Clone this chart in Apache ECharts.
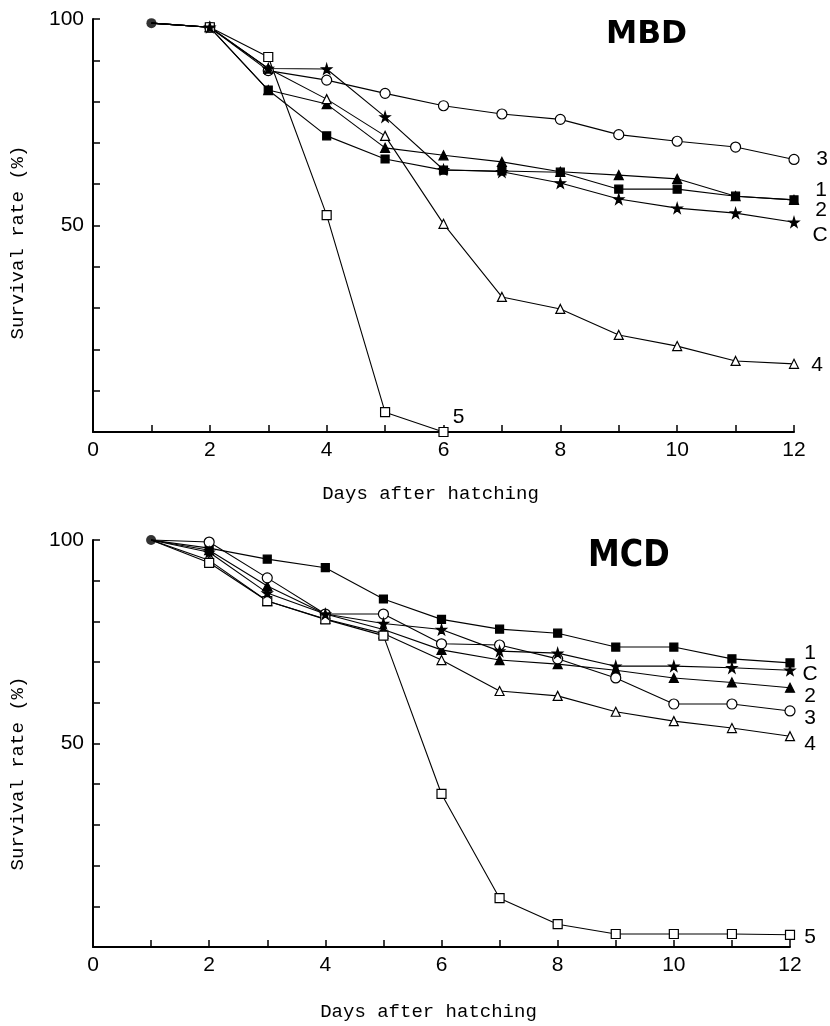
<!DOCTYPE html>
<html><head><meta charset="utf-8">
<script src="https://cdn.jsdelivr.net/npm/echarts@6/dist/echarts.min.js"></script>
<style>html,body{margin:0;padding:0;background:#fff}#c{width:830px;height:1026px}</style>
</head><body><div id="c"></div>
<script>
// ---- data ----
const days = [1,2,3,4,5,6,7,8,9,10,11,12];
const xTicks = [0,2,4,6,8,10,12];
const yTickLabels = [50,100];
// MBD panel
const mbd1 = [99, 98, 82.8, 71.7, 66.1, 63.4, 63.2, 62.9, 58.8, 58.8, 57.1, 56.2];
const mbd2 = [99, 98, 82.8, 79.4, 68.8, 67, 65.4, 63, 62.2, 61.3, 57.1, 56.2];
const mbd3 = [99, 98, 87.5, 85.2, 82, 79, 77, 75.7, 72, 70.4, 69, 66];
const mbd4 = [99, 98, 88, 80.6, 71.7, 50.4, 32.7, 29.8, 23.5, 20.8, 17.2, 16.5];
const mbd5 = [99, 98, 90.8, 52.5, 4.8, 0];
const mbdC = [99, 98, 88, 87.9, 76.3, 63.5, 63, 60.3, 56.4, 54.2, 53, 50.8];
// MCD panel
const mcd1 = [100, 98, 95.3, 93.2, 85.5, 80.5, 78.1, 77.1, 73.7, 73.7, 70.8, 69.8];
const mcd2 = [100, 97.5, 88.7, 81.8, 78, 73, 70.5, 69.5, 68, 66.1, 65, 63.7];
const mcd3 = [100, 99.5, 90.7, 81.8, 81.8, 74.5, 74.2, 70.8, 66.1, 59.7, 59.7, 58];
const mcd4 = [100, 95, 85, 80.6, 77, 70.5, 62.9, 61.7, 57.8, 55.5, 53.8, 51.8];
const mcd5 = [100, 94.4, 85, 80.5, 76.5, 37.6, 12, 5.6, 3.2, 3.2, 3.2, 3];
const mcdC = [100, 97, 87, 81.8, 79.5, 78, 72.7, 72.2, 69, 69, 68.6, 68];
const seriesNames = ['1','2','3','4','5','C'];
const panelTitles = ['MBD','MCD'];
const xName = 'Days after hatching';
const yName = 'Survival rate (%)';

// ---- styles ----
const STAR = 'path://M50,0 L61,35 98,35 68,57 79,91 50,70 21,91 32,57 2,35 39,35Z';
const sym = {
  '1': {symbol:'rect', size:8, fill:'#000'},
  '2': {symbol:'triangle', size:9, fill:'#000'},
  '3': {symbol:'circle', size:10, fill:'#fff'},
  '4': {symbol:'triangle', size:9, fill:'#fff'},
  '5': {symbol:'rect', size:9, fill:'#fff'},
  'C': {symbol:STAR, size:10, fill:'#000'}
};
const labelOffsets = [
  {'1':[27,-10],'2':[27,10],'3':[28,0],'4':[23,1],'5':[15,-15],'C':[26,13]},
  {'1':[20,-10],'2':[20,8],'3':[20,7],'4':[20,8],'5':[20,2],'C':[20,4]}
];
const panels = [
  {'1':mbd1,'2':mbd2,'3':mbd3,'4':mbd4,'5':mbd5,'C':mbdC},
  {'1':mcd1,'2':mcd2,'3':mcd3,'4':mcd4,'5':mcd5,'C':mcdC}
];

const series = [];
panels.forEach((p, pi) => {
  seriesNames.forEach(n => {
    const s = sym[n];
    series.push({
      type:'line', name:panelTitles[pi]+' '+n, xAxisIndex:pi, yAxisIndex:pi,
      data: p[n].map((v,i)=> i===0 ? {value:[days[i], v], symbolSize:0} : [days[i], v]),
      symbol:s.symbol, symbolSize:s.size, showAllSymbol:true,
      lineStyle:{color:'#000', width:1.1},
      itemStyle:{color:s.fill, borderColor:'#000', borderWidth:1.2},
      emphasis:{disabled:true}, animation:false, clip:false,
      endLabel:{show:true, formatter:n, distance:0, align:'center', verticalAlign:'middle',
        offset:labelOffsets[pi][n], color:'#000', fontSize:21,
        fontFamily:'Liberation Sans, Arial, sans-serif'}
    });
  });
  // common start point (filled circle)
  series.push({
    type:'scatter', xAxisIndex:pi, yAxisIndex:pi, symbol:'circle', symbolSize:10,
    data:[[days[0], p['1'][0]]], itemStyle:{color:'#000'}, z:5, animation:false, silent:true
  });
});

const axisFont = 'Liberation Sans, Arial, sans-serif';
const nameFont = 'Liberation Mono, DejaVu Sans Mono, monospace';
function xAx(gi, gap){
  return {type:'value', gridIndex:gi, min:0, max:12, interval:1,
    name:xName, nameLocation:'middle', nameGap:gap,
    nameTextStyle:{fontFamily:nameFont, fontSize:19, color:'#000', padding:[0,26,0,0]},
    axisLine:{lineStyle:{color:'#000', width:2}},
    axisTick:{inside:true, length:7, lineStyle:{color:'#000', width:1.5}},
    axisLabel:{color:'#000', fontSize:21, fontFamily:axisFont, margin:8,
      formatter:v => xTicks.includes(v) ? String(v) : ''},
    splitLine:{show:false}};
}
function yAx(gi, shift){
  return {type:'value', gridIndex:gi, min:0, max:100, interval:10,
    name:yName, nameLocation:'middle', nameGap:66, nameRotate:90,
    nameTextStyle:{fontFamily:nameFont, fontSize:19, color:'#000', padding:[0,shift,0,0]},
    axisLine:{show:true, lineStyle:{color:'#000', width:2}},
    axisTick:{inside:true, length:7, lineStyle:{color:'#000', width:1.5}},
    axisLabel:{color:'#000', fontSize:21, fontFamily:axisFont, margin:9,
      formatter:v => yTickLabels.includes(v) ? String(v) : ''},
    splitLine:{show:false}};
}

const chart = echarts.init(document.getElementById('c'), null, {renderer:'canvas'});
chart.setOption({
  backgroundColor:'#fff',
  animation:false,
  graphic:[
    {type:'text', x:606, y:19, scaleX:0.98, silent:true,
      style:{text:panelTitles[0], font:"bold 32px 'DejaVu Sans', sans-serif", fill:'#000', verticalAlign:'top', textVerticalAlign:'top'}},
    {type:'text', x:588, y:537, scaleX:0.84, silent:true,
      style:{text:panelTitles[1], font:"bold 38px 'DejaVu Sans', sans-serif", fill:'#000', verticalAlign:'top', textVerticalAlign:'top'}}
  ],
  grid:[
    {left:93, right:36, top:19, height:413},
    {left:93, right:40, top:540, height:407}
  ],
  xAxis:[xAx(0, 52), xAx(1, 55)],
  yAxis:[yAx(0, 34), yAx(1, 60)],
  series
});
</script></body></html>
